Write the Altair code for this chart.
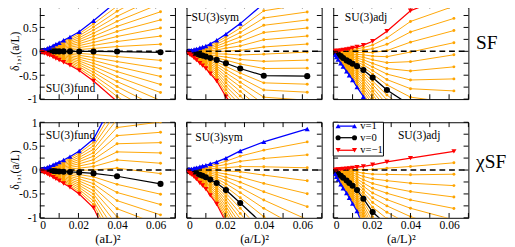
import altair as alt
import pandas as pd

# x = (a/L)^2 for L = 4,5,6,7,8,9,10,11,12,14,16,20,24,32
X = [0.0625, 0.04, 0.0278, 0.0204, 0.0156, 0.0123, 0.01, 0.0083, 0.0069, 0.0051, 0.0039, 0.0025, 0.0017, 0.001]
# intermediate v values drawn in orange
V_ORANGE = [-0.9, -0.8, -0.7, -0.6, -0.5, -0.4, -0.3, -0.2, -0.1, 0.1, 0.2, 0.3, 0.4, 0.5, 0.6, 0.7, 0.8, 0.9]

# SF, SU(3) fund
SF_FUND_P = [1.68, 1.05, 0.64, 0.41, 0.30, 0.23, 0.18, 0.15, 0.12, 0.085, 0.065, 0.04, 0.028, 0.015]
SF_FUND_Z = [-0.02, -0.005, -0.003, -0.003, -0.002, -0.002, -0.002, -0.001, -0.001, 0.0, 0.0, 0.0, 0.0, 0.0]
SF_FUND_M = [-1.70, -1.05, -0.62, -0.40, -0.29, -0.23, -0.18, -0.15, -0.12, -0.085, -0.065, -0.04, -0.028, -0.015]
# SF, SU(3) sym
SF_SYM_P = [1.16, 1.0, 0.58, 0.36, 0.23, 0.155, 0.11, 0.09, 0.075, 0.05, 0.038, 0.025, 0.017, 0.009]
SF_SYM_Z = [-0.52, -0.51, -0.36, -0.25, -0.18, -0.14, -0.11, -0.09, -0.075, -0.055, -0.042, -0.027, -0.019, -0.011]
SF_SYM_M = [-2.2, -2.0, -1.32, -0.95, -0.62, -0.47, -0.36, -0.30, -0.25, -0.18, -0.14, -0.09, -0.065, -0.035]
# SF, SU(3) adj
SF_ADJ_P = [-3.8, -2.5, -1.7, -1.25, -0.95, -0.75, -0.6, -0.5, -0.42, -0.32, -0.25, -0.17, -0.12, -0.07]
SF_ADJ_Z = [-1.33, -1.13, -0.81, -0.55, -0.39, -0.31, -0.26, -0.22, -0.19, -0.14, -0.10, -0.065, -0.045, -0.025]
SF_ADJ_M = [1.2, 0.85, 0.42, 0.21, 0.13, 0.09, 0.07, 0.05, 0.04, 0.03, 0.02, 0.01, 0.01, 0.005]
# chiSF, SU(3) fund
CSF_FUND_P = [1.87, 1.57, 0.65, 0.40, 0.28, 0.21, 0.165, 0.135, 0.11, 0.08, 0.06, 0.04, 0.027, 0.015]
CSF_FUND_Z = [-0.29, -0.13, -0.07, -0.05, -0.04, -0.035, -0.03, -0.025, -0.02, -0.015, -0.012, -0.008, -0.005, -0.003]
CSF_FUND_M = [-2.45, -1.83, -0.79, -0.50, -0.36, -0.28, -0.225, -0.185, -0.15, -0.11, -0.084, -0.056, -0.037, -0.021]
# chiSF, SU(3) sym
CSF_SYM_P = [0.86, 0.59, 0.40, 0.25, 0.17, 0.13, 0.10, 0.085, 0.07, 0.05, 0.04, 0.025, 0.018, 0.01]
CSF_SYM_Z = [-1.85, -1.15, -0.69, -0.42, -0.27, -0.2, -0.15, -0.12, -0.1, -0.07, -0.05, -0.035, -0.025, -0.012]
CSF_SYM_M = [-4.56, -2.89, -1.78, -1.09, -0.71, -0.53, -0.40, -0.325, -0.27, -0.19, -0.14, -0.095, -0.068, -0.034]
# chiSF, SU(3) adj
CSF_ADJ_P = [-4.4, -3.25, -2.5, -1.9, -1.2, -0.86, -0.7, -0.58, -0.48, -0.38, -0.3, -0.2, -0.14, -0.08]
CSF_ADJ_Z = [-2.0, -1.5, -1.15, -0.88, -0.6, -0.42, -0.33, -0.27, -0.22, -0.16, -0.12, -0.08, -0.055, -0.03]
CSF_ADJ_M = [0.39, 0.25, 0.17, 0.11, 0.075, 0.06, 0.045, 0.035, 0.03, 0.02, 0.015, 0.01, 0.007, 0.004]

Y_TICKS = [-1, -0.75, -0.5, -0.25, 0, 0.25, 0.5, 0.75, 1]
X_TICKS = [0, 0.01, 0.02, 0.03, 0.04, 0.05, 0.06, 0.07]
Y_TITLE = "\u03b4\u2081,\u2081(a/L)"

LEGEND_LABELS = ["v=1", "v=0", "v=\u22121"]
LEGEND_COLORS = ["#0000ff", "#000000", "#ff0000"]
LEGEND_SHAPES = ["triangle-up", "circle", "triangle-down"]

W, H = 140, 99
FONT = "Liberation Serif"
XS = alt.Scale(domain=[0, 0.07], nice=False, zero=False)
YS = alt.Scale(domain=[-1, 1], nice=False, zero=False)


def panel(P, Z, M, label, lab_xy, row, col):
    main = []
    orange = []
    for i, x in enumerate(X):
        main.append({"x": x, "y": P[i], "s": "p"})
        main.append({"x": x, "y": Z[i], "s": "z"})
        main.append({"x": x, "y": M[i], "s": "m"})
        for v in V_ORANGE:
            a = (P[i] - M[i]) / 2
            b = (P[i] + M[i] - 2 * Z[i]) / 2
            orange.append({"x": x, "y": Z[i] + a * v + b * v * v, "v": v})
    dm = pd.DataFrame(main)
    do = pd.DataFrame(orange)

    if row == 1:
        xaxis = alt.Axis(values=[0, 0.02, 0.04, 0.06], labelExpr="toString(datum.value)",
                         labelFont=FONT, titleFont=FONT, labelFontSize=12, titleFontSize=13,
                         labelPadding=2, titlePadding=3,
                         title="(aL)\u00b2" if col == 0 else "(a/L)\u00b2")
    else:
        xaxis = None
    if col == 0:
        yaxis = alt.Axis(values=[-1, -0.5, 0, 0.5, 1], labelExpr="toString(datum.value)",
                         labelFont=FONT, labelFontSize=12, labelPadding=3, title="")
    else:
        yaxis = None

    xe = alt.X("x:Q", scale=XS, axis=xaxis)
    ye = alt.Y("y:Q", scale=YS, axis=yaxis)

    layers = []
    layers.append(alt.Chart(do).mark_line(color="#ffa500", strokeWidth=1, clip=True).encode(
        x=xe, y=ye, detail="v:N", order="x:Q"))
    layers.append(alt.Chart(do).mark_point(color="#ffa500", filled=True, size=9, opacity=1, clip=True).encode(
        x=xe, y=ye))
    layers.append(alt.Chart(pd.DataFrame({"z": [0]})).mark_rule(color="black", strokeWidth=1.5,
                                                                  strokeDash=[6, 4]).encode(
        y=alt.Y("z:Q", scale=YS, axis=yaxis), x=alt.value(0), x2=alt.value(W)))
    for s, colr, shp, sz in [("z", "#000000", "circle", 40), ("p", "#0000ff", "triangle-up", 28),
                             ("m", "#ff0000", "triangle-down", 28)]:
        d = dm[dm.s == s]
        layers.append(alt.Chart(d).mark_line(color=colr, strokeWidth=1.3, clip=True).encode(
            x=xe, y=ye, order="x:Q"))
        layers.append(alt.Chart(d).mark_point(color=colr, filled=True, shape=shp, size=sz, opacity=1,
                                              clip=True).encode(x=xe, y=ye))
    # inward ticks
    yt = pd.DataFrame({"t": Y_TICKS})
    xt = pd.DataFrame({"t": X_TICKS})
    for x0, x1 in [(0, 5), (W - 5, W)]:
        layers.append(alt.Chart(yt).mark_rule(color="black", strokeWidth=1).encode(
            y=alt.Y("t:Q", scale=YS, axis=yaxis), x=alt.value(x0), x2=alt.value(x1)))
    for y0, y1 in [(0, 5), (H - 5, H)]:
        layers.append(alt.Chart(xt).mark_rule(color="black", strokeWidth=1).encode(
            x=alt.X("t:Q", scale=XS, axis=xaxis), y=alt.value(y0), y2=alt.value(y1)))
    # panel label
    layers.append(alt.Chart(pd.DataFrame({"t": [label]})).mark_text(
        font=FONT, fontSize=12, align="left", baseline="middle", color="black").encode(
        text="t:N", x=alt.value(lab_xy[0]), y=alt.value(lab_xy[1])))

    if col == 0:
        layers.append(alt.Chart(pd.DataFrame({"t": [Y_TITLE]})).mark_text(
            font=FONT, fontSize=12, align="center", baseline="middle", angle=270,
            color="black", clip=False).encode(
            text="t:N", x=alt.value(-26), y=alt.value(H / 2)))

    if col == 2:
        layers.append(alt.Chart(pd.DataFrame({"t": ["SF" if row == 0 else "\u03c7SF"]})).mark_text(
            font=FONT, fontSize=20, align="left", baseline="middle", color="black", clip=False).encode(
            text="t:N", x=alt.value(W + 8), y=alt.value(41)))
    if row == 1 and col == 2:
        lg = pd.DataFrame({"lab": LEGEND_LABELS, "col": LEGEND_COLORS, "shp": LEGEND_SHAPES,
                           "ly": [4, 16, 29]})
        layers.append(alt.Chart(pd.DataFrame({"a": [0]})).mark_rect(
            fill="white", stroke="black", strokeWidth=1).encode(
            x=alt.value(0), x2=alt.value(52), y=alt.value(0), y2=alt.value(35)))
        layers.append(alt.Chart(lg).mark_rule(strokeWidth=1.3).encode(
            x=alt.value(5), x2=alt.value(22), y=alt.Y("ly:Q", scale=None),
            color=alt.Color("col:N", scale=None)))
        for px in [5, 22]:
            layers.append(alt.Chart(lg).mark_point(filled=True, size=28, opacity=1).encode(
                x=alt.value(px), y=alt.Y("ly:Q", scale=None),
                color=alt.Color("col:N", scale=None),
                shape=alt.Shape("shp:N", scale=None)))
        layers.append(alt.Chart(lg).mark_text(font=FONT, fontSize=11, align="left",
                                              baseline="middle", color="black").encode(
            text="lab:N", x=alt.value(28), y=alt.Y("ly:Q", scale=None)))

    return alt.layer(*layers).properties(width=W, height=H)


top = alt.hconcat(
    panel(SF_FUND_P, SF_FUND_Z, SF_FUND_M, "SU(3)fund", (6, 88), 0, 0),
    panel(SF_SYM_P, SF_SYM_Z, SF_SYM_M, "SU(3)sym", (5, 14), 0, 1),
    panel(SF_ADJ_P, SF_ADJ_Z, SF_ADJ_M, "SU(3)adj", (12, 14), 0, 2),
    spacing=8,
)
bottom = alt.hconcat(
    panel(CSF_FUND_P, CSF_FUND_Z, CSF_FUND_M, "SU(3)fund", (6, 13), 1, 0),
    panel(CSF_SYM_P, CSF_SYM_Z, CSF_SYM_M, "SU(3)sym", (9, 15), 1, 1),
    panel(CSF_ADJ_P, CSF_ADJ_Z, CSF_ADJ_M, "SU(3)adj", (67, 13), 1, 2),
    spacing=8,
)

chart = alt.vconcat(top, bottom, spacing=10).properties(
    padding={"left": 0, "top": -16, "right": 0, "bottom": 0}
).configure_view(stroke="black", strokeWidth=1).configure_axis(
    labelFont=FONT, labelFontSize=12, labelColor="black", titleFont=FONT, titleFontSize=13,
    titleFontWeight="normal", titleColor="black", ticks=False, domain=False, grid=False,
)

chart.save("out.html", embed_options={"renderer": "svg", "actions": False})
